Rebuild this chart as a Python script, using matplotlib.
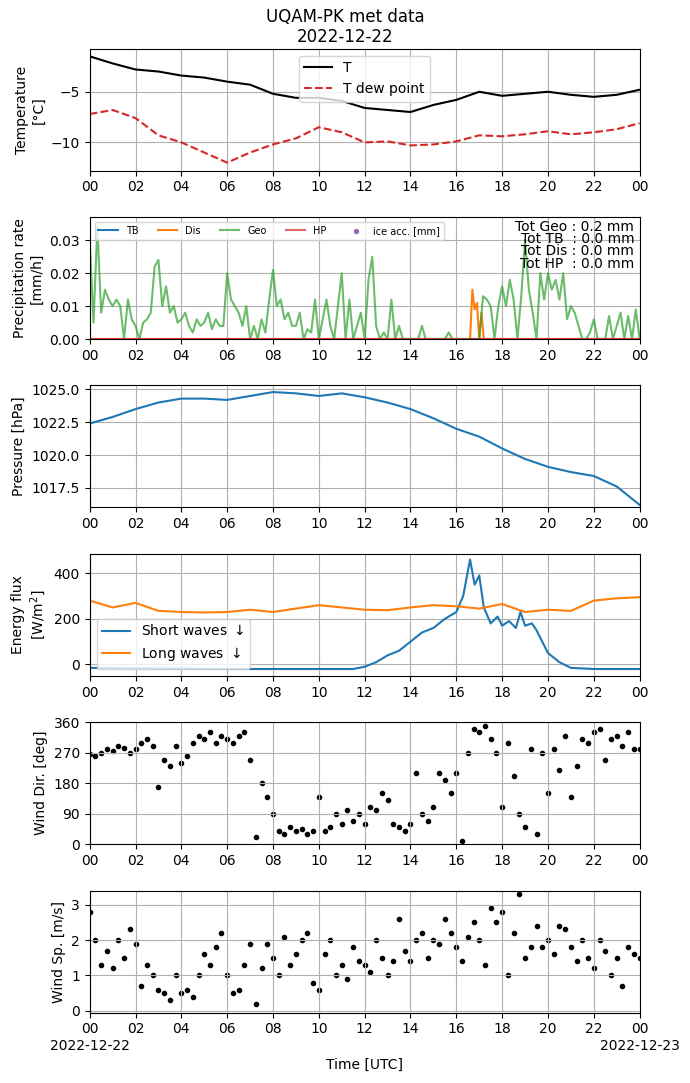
import numpy as np
import matplotlib.pyplot as plt
import matplotlib.dates as mdates
from datetime import datetime, timedelta

start = datetime(2022, 12, 22)

# temperature, hourly
t_hours = list(range(25))
temp = [-1.5, -2.2, -2.8, -3.0, -3.4, -3.6, -4.0, -4.3, -5.2, -5.6, -5.6, -5.9, -6.6,
        -6.8, -7.0, -6.3, -5.8, -5.0, -5.4, -5.2, -5.0, -5.3, -5.5, -5.3, -4.8]
tdew = [-7.2, -6.8, -7.6, -9.3, -10.0, -11.0, -12.0, -11.0, -10.2, -9.6, -8.5, -9.0, -10.0,
        -9.9, -10.3, -10.2, -9.9, -9.3, -9.4, -9.2, -8.9, -9.2, -9.0, -8.7, -8.1]

# precipitation, 10 min
geo = [0.03, 0.005, 0.034, 0.008, 0.015, 0.012, 0.01, 0.012, 0.01, 0.0, 0.012, 0.006,
       0.004, 0.0, 0.005, 0.006, 0.008, 0.022, 0.024, 0.01, 0.016, 0.008, 0.01, 0.005,
       0.006, 0.008, 0.004, 0.002, 0.006, 0.004, 0.005, 0.008, 0.003, 0.006, 0.004, 0.004,
       0.02, 0.012, 0.01, 0.008, 0.004, 0.01, 0.0, 0.004, 0.0, 0.006, 0.002, 0.012,
       0.021, 0.01, 0.012, 0.006, 0.008, 0.004, 0.004, 0.008, 0.0, 0.003, 0.002, 0.012,
       0.0, 0.006, 0.012, 0.004, 0.0, 0.01, 0.02, 0.0, 0.012, 0.0, 0.004, 0.008,
       0.0, 0.018, 0.025, 0.004, 0.0, 0.002, 0.0, 0.012, 0.0, 0.004, 0.0, 0.0,
       0.0, 0.0, 0.0, 0.004, 0.0, 0.0, 0.0, 0.0, 0.0, 0.0, 0.002, 0.0,
       0.0, 0.0, 0.0, 0.0, 0.0, 0.0, 0.0, 0.013, 0.012, 0.01, 0.0, 0.01,
       0.016, 0.01, 0.018, 0.012, 0.0, 0.013, 0.03, 0.015, 0.008, 0.0, 0.02, 0.012,
       0.02, 0.015, 0.018, 0.012, 0.02, 0.006, 0.01, 0.008, 0.004, 0.0, 0.0, 0.002,
       0.006, 0.0, 0.0, 0.0, 0.007, 0.0, 0.004, 0.008, 0.0, 0.007, 0.0, 0.009, 0.0]
dis_hours = [0, 16.5, 16.6, 16.7, 16.8, 16.9, 17.0, 17.1, 17.2, 24]
dis = [0, 0, 0.0, 0.015, 0.009, 0.011, 0.0, 0.008, 0.0, 0]

# pressure, hourly
pres = [1022.4, 1022.9, 1023.5, 1024.0, 1024.3, 1024.3, 1024.2, 1024.5, 1024.8, 1024.7,
        1024.5, 1024.7, 1024.4, 1024.0, 1023.5, 1022.8, 1022.0, 1021.4, 1020.5, 1019.7,
        1019.1, 1018.7, 1018.4, 1017.6, 1016.2]

# radiation
sw_hours = [0, 6, 11.5, 12, 12.5, 13, 13.5, 14, 14.5, 15, 15.5, 16, 16.3, 16.6, 16.8, 17,
            17.2, 17.5, 17.8, 18, 18.3, 18.6, 18.8, 19, 19.3, 19.5, 20, 20.5, 21, 22, 24]
sw = [-15, -20, -20, -10, 10, 40, 60, 100, 140, 160, 200, 230, 300, 460, 350, 390,
      250, 180, 210, 170, 190, 160, 230, 170, 180, 150, 50, 10, -15, -20, -20]
lw = [280, 250, 270, 235, 230, 228, 230, 240, 230, 245, 260, 250, 240,
      238, 250, 260, 255, 245, 265, 230, 240, 235, 280, 290, 295]

# wind, 15 min
wdir = [265, 260, 270, 280, 275, 290, 285, 270, 280, 300, 310, 290, 170, 250, 230, 290,
        240, 260, 300, 320, 310, 330, 300, 320, 310, 300, 320, 330, 250, 20, 180, 140,
        90, 40, 30, 50, 40, 45, 30, 40, 140, 40, 50, 90, 60, 100, 70, 90,
        60, 110, 100, 150, 130, 60, 50, 40, 60, 210, 90, 70, 110, 210, 190, 150,
        210, 10, 270, 340, 330, 350, 310, 270, 110, 300, 200, 90, 50, 280, 30, 270,
        150, 280, 220, 320, 140, 230, 310, 300, 330, 340, 250, 310, 320, 290, 330, 280, 280]
wspd = [2.8, 2.0, 1.3, 1.7, 1.2, 2.0, 1.5, 2.3, 1.9, 0.7, 1.3, 1.0, 0.6, 0.5, 0.3, 1.0,
        0.5, 0.6, 0.4, 1.0, 1.6, 1.3, 1.8, 2.2, 1.0, 0.5, 0.6, 1.3, 1.9, 0.2, 1.2, 1.9,
        1.5, 1.0, 2.1, 1.3, 1.6, 2.0, 2.2, 0.8, 0.6, 1.6, 2.0, 1.0, 1.3, 0.9, 1.8, 1.4,
        1.3, 1.1, 2.0, 1.5, 1.0, 1.4, 2.6, 1.7, 1.4, 2.0, 2.2, 1.5, 2.0, 1.9, 2.6, 2.2,
        1.8, 1.4, 2.1, 2.5, 2.0, 1.3, 2.9, 2.5, 2.8, 1.0, 2.2, 3.3, 1.5, 1.8, 2.4, 1.8,
        2.0, 1.6, 2.4, 2.3, 1.8, 1.4, 2.0, 1.5, 1.2, 2.0, 1.7, 1.0, 1.5, 0.7, 1.8, 1.6, 1.5]


def times(hours):
    return [start + timedelta(hours=h) for h in hours]


th = times(t_hours)
t10 = times([i / 6 for i in range(len(geo))])
t15 = times([i / 4 for i in range(len(wdir))])
t30 = times(t_hours)

fig, axs = plt.subplots(6, 1, figsize=(6.9, 10.83), dpi=100)
fig.subplots_adjust(left=0.13, right=0.927, top=0.955, bottom=0.065, hspace=0.38)
fig.suptitle("UQAM-PK met data\n2022-12-22", fontsize=12, y=0.993)

ax = axs[0]
ax.plot(th, temp, color='black', label='T')
ax.plot(th, tdew, color='tab:red', ls='--', label='T dew point')
ax.set_ylim(-12.8, -0.75)
ax.set_ylabel("Temperature\n[°C]")
ax.legend(loc='upper center')

ax = axs[1]
ax.plot(th, [0] * 25, color='tab:blue', label='TB')
ax.plot(times(dis_hours), dis, color='tab:orange', label='Dis')
ax.plot(t10, geo, color='tab:green', alpha=0.7, label='Geo')
ax.plot(th, [0] * 25, color='tab:red', alpha=0.7, label='HP')
ax.scatter([], [], s=8, color='tab:purple', label='ice acc. [mm]')
ax.set_ylim(0, 0.037)
ax.set_ylabel("Precipitation rate\n[mm/h]")
ax.legend(loc='upper left', ncol=5, fontsize=7)
ax.text(0.99, 0.98, "Tot Geo : 0.2 mm\nTot TB  : 0.0 mm\nTot Dis : 0.0 mm\nTot HP  : 0.0 mm",
        transform=ax.transAxes, ha='right', va='top', fontsize=10, linespacing=0.85)

ax = axs[2]
ax.plot(th, pres, color='tab:blue')
ax.set_ylim(1016.0, 1025.3)
ax.set_ylabel("Pressure [hPa]")

ax = axs[3]
ax.plot(times(sw_hours), sw, color='tab:blue', label='Short waves $\\downarrow$')
ax.plot(t30, lw, color='tab:orange', label='Long waves $\\downarrow$')
ax.set_ylim(-50, 485)
ax.set_ylabel("Energy flux\n[W/m$^2$]")
ax.legend(loc='lower left')

ax = axs[4]
ax.scatter(t15, wdir, s=9, color='black')
ax.set_ylim(0, 360)
ax.set_yticks([0, 90, 180, 270, 360])
ax.set_ylabel("Wind Dir. [deg]")

ax = axs[5]
ax.scatter(t15, wspd, s=9, color='black')
ax.set_ylim(-0.05, 3.4)
ax.set_yticks([0, 1, 2, 3])
ax.set_ylabel("Wind Sp. [m/s]")
ax.set_xlabel("Time [UTC]")

ticks = times(range(0, 25, 2))
for i, ax in enumerate(axs):
    ax.set_xlim(start, start + timedelta(hours=24))
    ax.set_xticks(ticks)
    ax.xaxis.set_major_formatter(mdates.DateFormatter('%H'))
    ax.grid(True)
labels = ['%02d' % (h % 24) for h in range(0, 25, 2)]
labels[0] = '00\n2022-12-22'
labels[-1] = '00\n2022-12-23'
axs[5].set_xticklabels(labels)

fig.savefig("out.png")
